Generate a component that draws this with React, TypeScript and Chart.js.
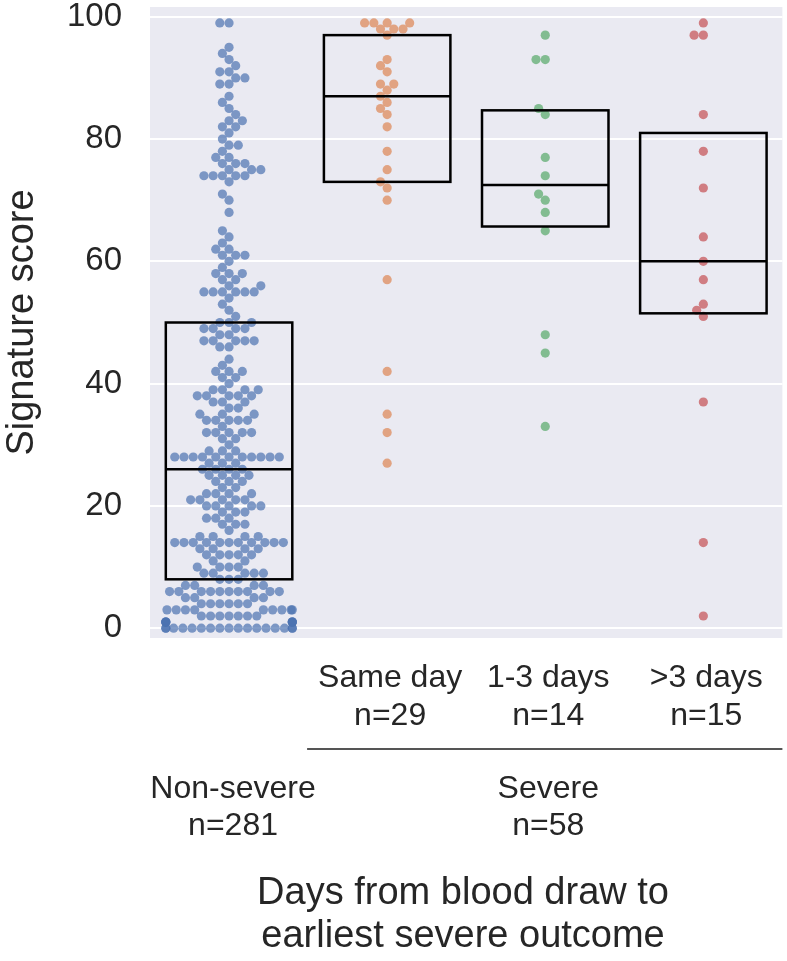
import React, { useEffect, useRef } from "react";
import { Chart, registerables } from "chart.js";

Chart.register(...registerables);

const FONT = "'Liberation Sans', Arial, Helvetica, sans-serif";
const TEXT = "#262626";

const categories = ["Non-severe", "Same day", "1-3 days", ">3 days"];

const nonSevere = [
  0, 0, 0, 0, 0, 0, 0, 0, 0, 0, 0, 0, 0, 0, 0, 0, 0,
  1, 1, 1, 1, 1, 1, 1, 1,
  2, 2, 2, 2, 2, 2, 2,
  3, 3, 3, 3, 3, 3, 3, 3, 3,
  4, 4, 4, 4, 4, 4,
  5, 5, 5, 5,
  6, 6, 6, 6, 6, 6, 6, 6, 6, 6,
  7, 7, 7, 7,
  8, 8, 8,
  9, 9, 9, 9, 9,
  10, 10, 10, 10,
  11, 11,
  12, 12, 12, 12, 12,
  13, 13, 13, 13,
  14, 14, 14, 14, 14, 14, 14, 14, 14, 14, 14,
  15, 15, 15, 15,
  16,
  17, 17, 17,
  18, 18, 18,
  19, 19, 19,
  20, 20, 20, 20, 20,
  21, 21, 21, 21, 21,
  22, 22, 22, 22,
  23, 23,
  24, 24, 24,
  25, 25, 25, 25,
  26, 26, 26, 26,
  27, 27, 27,
  28, 28, 28, 28, 28, 28, 28, 28, 28, 28, 28,
  29, 29, 29,
  30,
  31, 31,
  32, 32, 32, 32, 32,
  33,
  34, 34, 34, 34, 34,
  35, 35, 35,
  36, 36,
  37, 37, 37,
  38, 38, 38, 38, 38,
  39, 39, 39, 39,
  40,
  41, 41,
  42, 42, 42,
  43,
  44,
  46, 46,
  47, 47, 47, 47, 47,
  48, 48,
  49, 49, 49, 49,
  50, 50, 50,
  51, 52, 53, 54,
  55, 55, 55, 55, 55, 55,
  56, 56,
  57, 57,
  58, 58, 58,
  59, 60,
  61, 61, 61,
  62, 62,
  63, 64, 65, 68, 70, 71, 73,
  74, 74, 74, 74, 74,
  75, 75, 75,
  76, 76, 76,
  77, 77,
  78,
  79, 79,
  80, 81,
  82, 82,
  83, 83,
  84, 85, 86, 87,
  89, 89,
  90, 90,
  91, 91,
  92, 93, 94, 95,
  99, 99,
];

const sameDay = [99, 99, 99, 99, 98, 98, 98, 97, 93, 92, 91, 89, 89, 88, 87, 86, 85, 84, 82, 78, 75, 73, 72, 70, 57, 42, 35, 32, 27];
const days1to3 = [97, 93, 93, 85, 84, 77, 74, 71, 70, 68, 65, 48, 45, 33];
const daysOver3 = [99, 97, 97, 84, 78, 72, 64, 60, 57, 53, 52, 51, 37, 14, 2];

const boxQ1 = [8, 73, 65.7, 51.5];
const boxMedian = [26, 87, 72.5, 60];
const boxQ3 = [50, 97, 84.7, 81];

const yTicks = [0, 20, 40, 60, 80, 100];

const subLabels = [
  ["Same day", "n=29"],
  ["1-3 days", "n=14"],
  [">3 days", "n=15"],
];
const groupLabels = [
  ["Non-severe", "n=281"],
  ["Severe", "n=58"],
];
const xTitle = ["Days from blood draw to", "earliest severe outcome"];
const yTitle = "Signature score";

const groups = [nonSevere, sameDay, days1to3, daysOver3];
const pointColors = [
  "rgba(76,114,176,0.7)",
  "rgba(221,132,82,0.7)",
  "rgba(85,168,104,0.7)",
  "rgba(196,78,82,0.7)",
];

// Beeswarm layout in pixel space (seaborn-like)
function beeswarm(vals: number[], yPix: (v: number) => number, d: number, half: number): number[] {
  const order = vals.map((_, i) => i).sort((a, b) => vals[a] - vals[b] || a - b);
  const placed: { x: number; y: number }[] = [];
  const offsets = new Array(vals.length).fill(0);
  for (const idx of order) {
    const y = yPix(vals[idx]);
    const neighbors: { x: number; y: number }[] = [];
    for (let k = placed.length - 1; k >= 0; k--) {
      if (Math.abs(placed[k].y - y) < d) neighbors.push(placed[k]);
      else break;
    }
    const cands: number[] = [0];
    let leftFirst = true;
    for (const n of neighbors) {
      const dy = y - n.y;
      const dx = Math.sqrt(Math.max(d * d - dy * dy, 0)) * 1.05;
      const cl = n.x - dx;
      const cr = n.x + dx;
      if (leftFirst) cands.push(cl, cr);
      else cands.push(cr, cl);
      leftFirst = !leftFirst;
    }
    const sorted = cands
      .map((c, k) => ({ c, k }))
      .sort((a, b) => Math.abs(a.c) - Math.abs(b.c) || a.k - b.k);
    let chosen = 0;
    for (const { c } of sorted) {
      if (neighbors.every((n) => (n.x - c) ** 2 + (n.y - y) ** 2 >= d * d - 1e-6)) {
        chosen = c;
        break;
      }
    }
    placed.push({ x: chosen, y });
    offsets[idx] = chosen;
  }
  return offsets.map((o) => Math.max(-half, Math.min(half, o)));
}

const bgPlugin = {
  id: "bg",
  beforeDraw(chart: any) {
    const { ctx, chartArea } = chart;
    ctx.save();
    ctx.fillStyle = "#EAEAF2";
    ctx.fillRect(chartArea.left, chartArea.top, chartArea.right - chartArea.left, chartArea.bottom - chartArea.top);
    ctx.restore();
  },
};

const boxPlugin = {
  id: "boxes",
  afterDatasetsDraw(chart: any) {
    const { ctx } = chart;
    const xs = chart.scales.x;
    const ys = chart.scales.y;
    ctx.save();
    ctx.strokeStyle = "#000";
    ctx.lineWidth = 2.5;
    for (let i = 0; i < categories.length; i++) {
      const x0 = xs.getPixelForValue(i - 0.4);
      const x1 = xs.getPixelForValue(i + 0.4);
      const yq1 = ys.getPixelForValue(boxQ1[i]);
      const yq3 = ys.getPixelForValue(boxQ3[i]);
      const ym = ys.getPixelForValue(boxMedian[i]);
      ctx.strokeRect(x0, yq3, x1 - x0, yq1 - yq3);
      ctx.beginPath();
      ctx.moveTo(x0, ym);
      ctx.lineTo(x1, ym);
      ctx.stroke();
    }
    ctx.restore();
  },
};

const labelsPlugin = {
  id: "labels",
  afterDraw(chart: any) {
    const { ctx, chartArea } = chart;
    const xs = chart.scales.x;
    const b = chartArea.bottom;
    ctx.save();
    ctx.fillStyle = TEXT;
    ctx.textAlign = "center";
    ctx.textBaseline = "alphabetic";
    ctx.font = `32px ${FONT}`;
    subLabels.forEach((lines, k) => {
      const x = xs.getPixelForValue(k + 1) + 3;
      ctx.fillText(lines[0], x, b + 49);
      ctx.fillText(lines[1], x, b + 87);
    });
    // separator line under severe subgroups
    ctx.strokeStyle = "#555";
    ctx.lineWidth = 2;
    ctx.beginPath();
    ctx.moveTo(xs.getPixelForValue(0.5) - 1, b + 111);
    ctx.lineTo(chartArea.right, b + 111);
    ctx.stroke();
    const gx = [xs.getPixelForValue(0) + 4, xs.getPixelForValue(2) + 3];
    groupLabels.forEach((lines, k) => {
      ctx.fillText(lines[0], gx[k], b + 160);
      ctx.fillText(lines[1], gx[k], b + 197);
    });
    ctx.font = `38px ${FONT}`;
    const tx = xs.getPixelForValue(1.48);
    ctx.fillText(xTitle[0], tx, b + 266);
    ctx.fillText(xTitle[1], tx, b + 309);
    ctx.restore();
  },
};

export default function App() {
  const ref = useRef<HTMLCanvasElement | null>(null);
  useEffect(() => {
    if (!ref.current) return;
    const chart = new Chart(ref.current, {
      type: "scatter",
      data: {
        datasets: groups.map((vals, i) => ({
          label: categories[i],
          data: vals.map((v) => ({ x: i, y: v })),
          backgroundColor: pointColors[i],
          borderWidth: 0,
          pointRadius: 4.6,
          pointHoverRadius: 4.6,
        })),
      },
      options: {
        animation: false,
        responsive: false,
        maintainAspectRatio: false,
        layout: { padding: { top: 7, bottom: 323, left: 0, right: 0 } },
        plugins: { legend: { display: false }, tooltip: { enabled: false } },
        scales: {
          x: { type: "linear", min: -0.5, max: 3.5, display: false },
          y: {
            min: -1.6,
            max: 101.6,
            afterFit: (s: any) => {
              s.width = 150;
              s.paddingTop = 0;
              s.paddingBottom = 0;
            },
            afterBuildTicks: (s: any) => {
              s.ticks = yTicks.map((v) => ({ value: v }));
            },
            ticks: {
              stepSize: 20,
              includeBounds: false,
              padding: 28,
              color: TEXT,
              font: { size: 33, family: FONT },
            },
            grid: { color: "#ffffff", lineWidth: 2, drawTicks: false },
            border: { display: false },
            title: {
              display: true,
              text: yTitle,
              color: TEXT,
              font: { size: 38, family: FONT },
              padding: { top: 0, bottom: 0 },
            },
          },
        },
      },
      plugins: [bgPlugin, boxPlugin, labelsPlugin],
    });
    const xs: any = chart.scales.x;
    const ys: any = chart.scales.y;
    const pxPerCat = xs.getPixelForValue(1) - xs.getPixelForValue(0);
    const half = 0.4 * pxPerCat;
    groups.forEach((vals, i) => {
      const offs = beeswarm(vals, (v) => ys.getPixelForValue(v), 8.8, half);
      chart.data.datasets[i].data = vals.map((v, k) => ({ x: i + offs[k] / pxPerCat, y: v }));
    });
    chart.update("none");
    return () => chart.destroy();
  }, []);
  return (
    <div style={{ position: "absolute", left: 0, top: 0, width: 787, height: 961 }}>
      <canvas ref={ref} width={787} height={961} style={{ display: "block" }} />
    </div>
  );
}
